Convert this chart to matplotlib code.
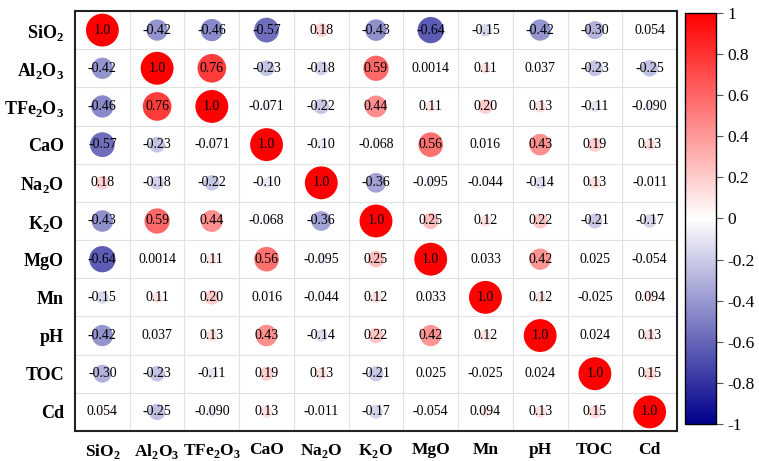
import numpy as np
import matplotlib
matplotlib.use("Agg")
import matplotlib.pyplot as plt
from matplotlib.colors import LinearSegmentedColormap, Normalize

labels = [r"SiO$_\mathbf{2}$", r"Al$_\mathbf{2}$O$_\mathbf{3}$", r"TFe$_\mathbf{2}$O$_\mathbf{3}$", "CaO",
          r"Na$_\mathbf{2}$O", r"K$_\mathbf{2}$O", "MgO", "Mn", "pH", "TOC", "Cd"]

# correlation matrix (rows in label order)
corr = np.array([
    [1.0, -0.42, -0.46, -0.57, 0.18, -0.43, -0.64, -0.15, -0.42, -0.30, 0.054],
    [-0.42, 1.0, 0.76, -0.23, -0.18, 0.59, 0.0014, 0.11, 0.037, -0.23, -0.25],
    [-0.46, 0.76, 1.0, -0.071, -0.22, 0.44, 0.11, 0.20, 0.13, -0.11, -0.090],
    [-0.57, -0.23, -0.071, 1.0, -0.10, -0.068, 0.56, 0.016, 0.43, 0.19, 0.13],
    [0.18, -0.18, -0.22, -0.10, 1.0, -0.36, -0.095, -0.044, -0.14, 0.13, -0.011],
    [-0.43, 0.59, 0.44, -0.068, -0.36, 1.0, 0.25, 0.12, 0.22, -0.21, -0.17],
    [-0.64, 0.0014, 0.11, 0.56, -0.095, 0.25, 1.0, 0.033, 0.42, 0.025, -0.054],
    [-0.15, 0.11, 0.20, 0.016, -0.044, 0.12, 0.033, 1.0, 0.12, -0.025, 0.094],
    [-0.42, 0.037, 0.13, 0.43, -0.14, 0.22, 0.42, 0.12, 1.0, 0.024, 0.13],
    [-0.30, -0.23, -0.11, 0.19, 0.13, -0.21, 0.025, -0.025, 0.024, 1.0, 0.15],
    [0.054, -0.25, -0.090, 0.13, -0.011, -0.17, -0.054, 0.094, 0.13, 0.15, 1.0],
])
# text shown in each cell
cell_text = [
    ["1.0", "-0.42", "-0.46", "-0.57", "0.18", "-0.43", "-0.64", "-0.15", "-0.42", "-0.30", "0.054"],
    ["-0.42", "1.0", "0.76", "-0.23", "-0.18", "0.59", "0.0014", "0.11", "0.037", "-0.23", "-0.25"],
    ["-0.46", "0.76", "1.0", "-0.071", "-0.22", "0.44", "0.11", "0.20", "0.13", "-0.11", "-0.090"],
    ["-0.57", "-0.23", "-0.071", "1.0", "-0.10", "-0.068", "0.56", "0.016", "0.43", "0.19", "0.13"],
    ["0.18", "-0.18", "-0.22", "-0.10", "1.0", "-0.36", "-0.095", "-0.044", "-0.14", "0.13", "-0.011"],
    ["-0.43", "0.59", "0.44", "-0.068", "-0.36", "1.0", "0.25", "0.12", "0.22", "-0.21", "-0.17"],
    ["-0.64", "0.0014", "0.11", "0.56", "-0.095", "0.25", "1.0", "0.033", "0.42", "0.025", "-0.054"],
    ["-0.15", "0.11", "0.20", "0.016", "-0.044", "0.12", "0.033", "1.0", "0.12", "-0.025", "0.094"],
    ["-0.42", "0.037", "0.13", "0.43", "-0.14", "0.22", "0.42", "0.12", "1.0", "0.024", "0.13"],
    ["-0.30", "-0.23", "-0.11", "0.19", "0.13", "-0.21", "0.025", "-0.025", "0.024", "1.0", "0.15"],
    ["0.054", "-0.25", "-0.090", "0.13", "-0.011", "-0.17", "-0.054", "0.094", "0.13", "0.15", "1.0"],
]
cbar_ticks = [-1, -0.8, -0.6, -0.4, -0.2, 0, 0.2, 0.4, 0.6, 0.8, 1]

plt.rcParams["font.family"] = ["Liberation Serif", "DejaVu Serif"]
plt.rcParams["mathtext.fontset"] = "custom"
plt.rcParams["mathtext.rm"] = "Liberation Serif"
plt.rcParams["mathtext.bf"] = "Liberation Serif:bold"

cmap = LinearSegmentedColormap.from_list("bwr_corr", ["#00008B", "#FFFFFF", "#FF0000"])
norm = Normalize(-1, 1)

n = len(labels)
fig = plt.figure(figsize=(7.59, 4.61), dpi=100)
ax = fig.add_axes([75 / 759, 1 - 431 / 461, 602 / 759, 420 / 461])

# light grid between cells
for k in range(1, n):
    ax.axhline(k - 0.5, color="#E2E2E2", lw=0.8, zorder=0)
    ax.axvline(k - 0.5, color="#E2E2E2", lw=0.8, zorder=0)

xs, ys = np.meshgrid(np.arange(n), np.arange(n))
vals = corr.ravel()
ax.scatter(xs.ravel(), ys.ravel(), s=560 * np.abs(vals), c=vals, cmap=cmap, norm=norm,
           edgecolors="none", zorder=2)

for i in range(n):
    for j in range(n):
        ax.text(j, i, cell_text[i][j], ha="center", va="center", fontsize=10, color="black", zorder=3)

ax.set_xlim(-0.5, n - 0.5)
ax.set_ylim(n - 0.5, -0.5)
ax.set_xticks(range(n))
ax.set_yticks(range(n))
ax.set_xticklabels(labels, fontsize=12.5, fontweight="bold")
ax.set_yticklabels(labels, fontsize=13, fontweight="bold")
ax.tick_params(length=0, pad=8)
for sp in ax.spines.values():
    sp.set_linewidth(1.5)
    sp.set_color("#222222")

cax = fig.add_axes([685 / 759, 1 - 424 / 461, 31 / 759, 411 / 461])
sm = plt.cm.ScalarMappable(cmap=cmap, norm=norm)
cb = fig.colorbar(sm, cax=cax, ticks=cbar_ticks)
cb.ax.set_yticklabels([f"{t:g}" for t in cbar_ticks], fontsize=12.5)
cb.ax.tick_params(length=5, width=0.8, color="#555555", pad=3)
cb.outline.set_linewidth(1.0)

fig.savefig("out.png", dpi=100)
